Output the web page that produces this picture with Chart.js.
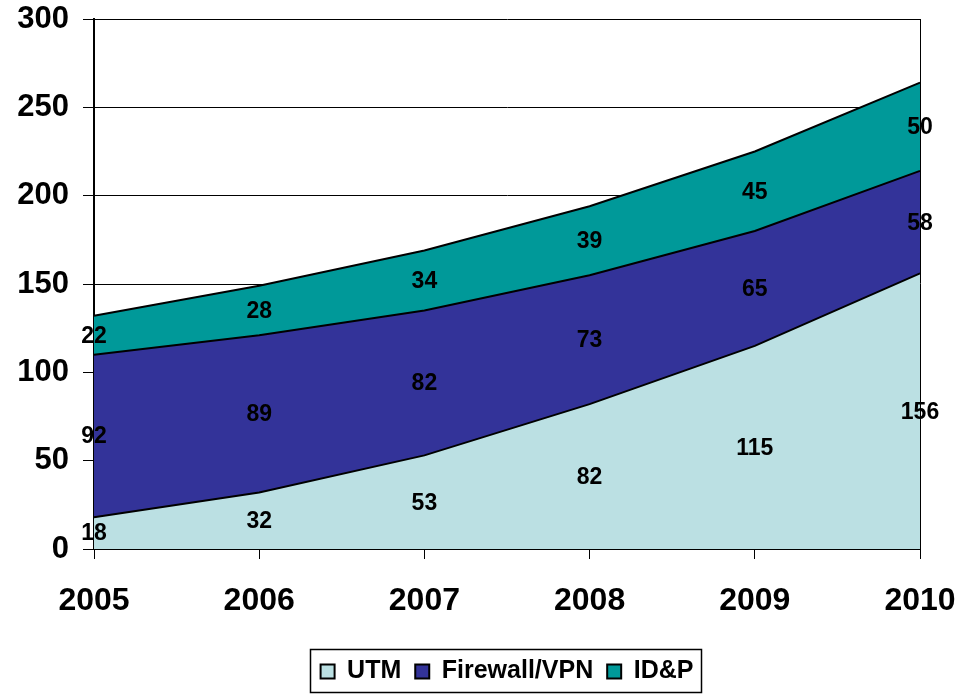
<!DOCTYPE html>
<html>
<head>
<meta charset="utf-8">
<script src="https://cdn.jsdelivr.net/npm/chart.js@4/dist/chart.umd.min.js"></script>
<style>
  html, body { margin: 0; padding: 0; background: #fff; }
  #wrap { width: 961px; height: 694px; }
</style>
</head>
<body>
<div id="wrap"><canvas id="chart" width="961" height="694"></canvas></div>
<script>
// chart values
var years = ['2005', '2006', '2007', '2008', '2009', '2010'];
var utm = [18, 32, 53, 82, 115, 156];
var firewall = [92, 89, 82, 73, 65, 58];
var idp = [22, 28, 34, 39, 45, 50];

var FONT = '"Liberation Sans", Arial, sans-serif';

// draws the number in the middle of each band
var bandLabels = {
    id: 'bandLabels',
    afterDatasetsDraw: function (chart) {
        var ctx = chart.ctx;
        var yScale = chart.scales.y;
        var xScale = chart.scales.x;
        var base = years.map(function () { return 0; });
        ctx.save();
        ctx.font = 'bold 23px ' + FONT;
        ctx.fillStyle = '#000';
        ctx.textAlign = 'center';
        ctx.textBaseline = 'middle';
        chart.data.datasets.forEach(function (ds) {
            ds.data.forEach(function (v, i) {
                var x = xScale.getPixelForValue(i);
                var y = yScale.getPixelForValue(base[i] + v / 2);
                ctx.fillText(String(v), x, y + 1);
                base[i] += v;
            });
        });
        ctx.restore();
    }
};

// box round the legend, like the original
var legendBox = {
    id: 'legendBox',
    afterDraw: function (chart) {
        var boxes = chart.legend.legendHitBoxes;
        if (!boxes || !boxes.length) return;
        var first = boxes[0], last = boxes[boxes.length - 1];
        var left = Math.round(first.left) - 10.5;
        var right = Math.round(last.left + last.width) + 8.5;
        var top = chart.legend.top + 4.5;
        var ctx = chart.ctx;
        ctx.save();
        ctx.strokeStyle = '#000';
        ctx.lineWidth = 1.5;
        ctx.strokeRect(left, top, right - left, 43);
        ctx.restore();
    }
};

var chart = new Chart(document.getElementById('chart').getContext('2d'), {
    type: 'line',
    data: {
        labels: years,
        datasets: [{
            label: 'UTM',
            data: utm,
            backgroundColor: '#BBE0E3',
            borderColor: '#000',
            borderWidth: 2,
            fill: 'origin'
        }, {
            label: 'Firewall/VPN',
            data: firewall,
            backgroundColor: '#333399',
            borderColor: '#000',
            borderWidth: 2,
            fill: '-1'
        }, {
            label: 'ID&P',
            data: idp,
            backgroundColor: '#009999',
            borderColor: '#000',
            borderWidth: 2,
            fill: '-1'
        }]
    },
    options: {
        responsive: false,
        animation: false,
        elements: {
            point: { radius: 0 },
            line: { tension: 0 }
        },
        layout: {
            padding: { top: 19, right: 41, left: 0, bottom: 0 }
        },
        scales: {
            x: {
                offset: false,
                grid: {
                    drawOnChartArea: true,
                    color: function (c) { return c.index === years.length - 1 ? '#000' : 'rgba(0,0,0,0)'; },
                    tickColor: '#000',
                    tickLength: 10,
                    lineWidth: 1
                },
                border: { color: '#000', width: 2 },
                ticks: {
                    color: '#000',
                    font: { family: FONT, size: 32, weight: 'bold' },
                    padding: 23,
                    maxRotation: 0,
                    autoSkip: false
                },
                afterFit: function (s) {
                    s.height = 96;
                    s.paddingLeft = 0;
                    s.paddingRight = 0;
                }
            },
            y: {
                stacked: true,
                min: 0,
                max: 300,
                grid: {
                    color: '#000',
                    lineWidth: 1,
                    tickColor: '#000',
                    tickLength: 11
                },
                border: { color: '#000', width: 2 },
                ticks: {
                    stepSize: 50,
                    color: '#000',
                    font: { family: FONT, size: 31, weight: 'bold' },
                    padding: 14
                },
                afterFit: function (s) {
                    s.width = 94;
                    s.paddingTop = 0;
                    s.paddingBottom = 0;
                }
            }
        },
        plugins: {
            legend: {
                position: 'bottom',
                fullSize: false,
                labels: {
                    color: '#000',
                    font: { family: FONT, size: 25, weight: 'bold' },
                    boxWidth: 14,
                    boxHeight: 14,
                    padding: 14
                }
            },
            tooltip: { enabled: false }
        }
    },
    plugins: [bandLabels, legendBox]
});
</script>
</body>
</html>
